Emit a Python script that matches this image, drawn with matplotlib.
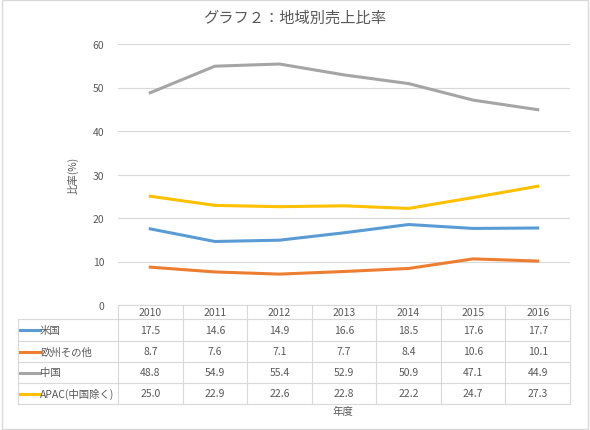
import matplotlib
matplotlib.use("Agg")
import matplotlib.pyplot as plt
from matplotlib.patches import Rectangle

plt.rcParams['font.family'] = ['Noto Sans CJK JP', 'DejaVu Sans']

years = ["2010", "2011", "2012", "2013", "2014", "2015", "2016"]
series_names = ["米国", "欧州その他", "中国", "APAC(中国除く)"]
us = [17.5, 14.6, 14.9, 16.6, 18.5, 17.6, 17.7]
eu = [8.7, 7.6, 7.1, 7.7, 8.4, 10.6, 10.1]
cn = [48.8, 54.9, 55.4, 52.9, 50.9, 47.1, 44.9]
apac = [25.0, 22.9, 22.6, 22.8, 22.2, 24.7, 27.3]
values = [us, eu, cn, apac]
colors = ["#5B9BD5", "#ED7D31", "#A5A5A5", "#FFC000"]

W, H = 590, 431
fig = plt.figure(figsize=(W/100, H/100), dpi=100)
fig.patches.append(Rectangle((0.003, 0.003), 0.994, 0.994, transform=fig.transFigure,
                             fill=False, edgecolor="#D9D9D9", lw=1))
x0, x1, y0, y1 = 118, 570, 306, 45
ax = fig.add_axes([x0/W, 1-y0/H, (x1-x0)/W, (y0-y1)/H])
n = len(years)
xs = [i + 0.5 for i in range(n)]
for v, c in zip(values, colors):
    ax.plot(xs, v, color=c, lw=2.2)
ax.set_xlim(0, n)
ax.set_ylim(0, 60)
ax.set_yticks(range(0, 61, 10))
ax.yaxis.grid(True, color="#D9D9D9", lw=0.8)
ax.set_axisbelow(True)
ax.set_xticks([])
for s in ["top", "right", "left"]:
    ax.spines[s].set_visible(False)
ax.spines["bottom"].set_color("#D9D9D9")
ax.tick_params(axis="y", length=0, labelsize=7.5, labelcolor="#595959", pad=10)
ax.set_ylabel("比率(%)", fontsize=7.5, color="#595959", labelpad=10)

# data table
def ya(py):
    return (y0 - py) / (y0 - y1)
lc = "#D9D9D9"
left_ax = (18 - x0) / (x1 - x0)
rows = [320, 342, 363, 384, 405]
for i in range(n + 1):
    ax.plot([i, i], [0, 1.0*ya(405)], transform=ax.get_xaxis_transform(), color=lc, lw=0.8, clip_on=False)
for r in rows:
    ax.plot([left_ax, 1], [ya(r)]*2, transform=ax.transAxes, color=lc, lw=0.8, clip_on=False)
ax.plot([left_ax, left_ax], [ya(320), ya(405)], transform=ax.transAxes, color=lc, lw=0.8, clip_on=False)
for i, yv in enumerate(years):
    ax.text(i + 0.5, ya(313), yv, transform=ax.get_xaxis_transform(), ha="center", va="center",
            fontsize=7.5, color="#595959")
for r, (name, v, c) in enumerate(zip(series_names, values, colors)):
    yc = ya((rows[r] + rows[r+1]) / 2)
    ax.plot([(20-x0)/(x1-x0), (40-x0)/(x1-x0)], [yc, yc], transform=ax.transAxes, color=c, lw=2.2, clip_on=False)
    ax.text((40-x0)/(x1-x0), yc, name, transform=ax.transAxes, ha="left", va="center", fontsize=7.5, color="#595959")
    for i, val in enumerate(v):
        ax.text(i + 0.5, yc, f"{val:.1f}", transform=ax.get_xaxis_transform(), ha="center", va="center",
                fontsize=7.5, color="#595959")

fig.text(0.5, 1-18/H, "グラフ２：地域別売上比率", ha="center", va="center", fontsize=11, color="#595959")
fig.text(343/W, 1-412/H, "年度", ha="center", va="center", fontsize=7.5, color="#595959")
fig.savefig("out.png", dpi=100)
